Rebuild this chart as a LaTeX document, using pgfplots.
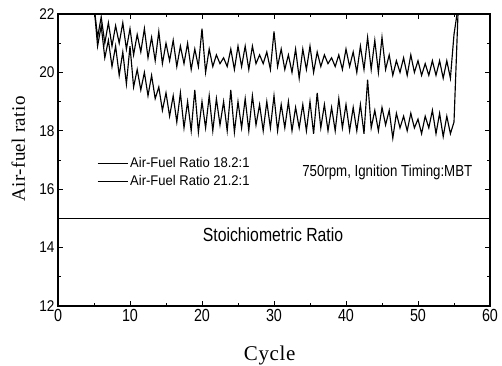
\documentclass[border=0pt]{standalone}
\usepackage{fontspec}
\usepackage{pgfplots}
\pgfplotsset{compat=1.18}
\setmainfont{Liberation Serif}
\newfontfamily\legsans[FakeStretch=0.93]{Liberation Sans}
\newfontfamily\annsans[FakeStretch=0.83]{Liberation Sans}
\newfontfamily\xtsans[FakeStretch=0.82]{Liberation Sans}
\newfontfamily\ytsans[FakeStretch=0.88]{Liberation Sans}
\newfontfamily\ylserif[LetterSpace=2]{Liberation Serif}
\newfontfamily\xlserif[LetterSpace=3]{Liberation Serif}
\begin{document}
\begin{tikzpicture}
\begin{axis}[name=ax,
  width=432pt, height=292pt, scale only axis,
  xmin=0, xmax=60, ymin=12, ymax=22,
  xtick={0,10,...,60}, ytick={12,14,...,22},
  minor x tick num=1, minor y tick num=1,
  tick align=inside, tick pos=both,
  major tick length=5pt, minor tick length=3pt,
  axis line style={line width=1.1pt}, every tick/.style={line width=0.9pt,black},
  /pgf/number format/assume math mode=true,
  xticklabel style={font=\xtsans\fontsize{17.5}{17.5}\selectfont},
  yticklabel style={font=\ytsans\fontsize{15.5}{15.5}\selectfont},
  xlabel={\xlserif\fontsize{21}{21}\selectfont Cycle},
  ylabel={\ylserif\fontsize{19}{19}\selectfont Air-fuel ratio},
  xlabel style={at={(axis description cs:0.49,-0.185)}, anchor=base},
  ylabel style={at={(axis description cs:-0.0764,0.538)}, anchor=base},
  clip=true,
  legend style={at={(axis cs:5.0,17.24)}, anchor=north west, draw=none, fill=none,
    font=\legsans\fontsize{14}{14}\selectfont, row sep=3pt,
    /tikz/every even column/.append style={column sep=0pt}},
  legend cell align=left,
  legend image code/.code={\draw[line width=1pt] (0pt,0pt) -- (30pt,0pt);},
]
\addplot[black, line width=1.15pt] coordinates {
(5.0,22.3)(5.5,20.9)(6.0,21.6)(6.5,20.5)(7.0,21.1)(7.5,20.2)(8.0,20.9)(8.5,19.9)(9.0,20.7)(9.5,19.6)
(10.0,20.9)(10.5,19.5)(11.0,20.1)(11.5,19.4)(12.0,20.0)(12.5,19.2)(13.0,19.9)(13.5,19.1)(14.0,19.5)(14.5,18.7)
(15.0,19.3)(15.5,18.5)(16.0,19.2)(16.5,18.3)(17.0,19.3)(17.5,18.1)(18.0,19.0)(18.5,18.0)(19.0,19.4)(19.5,17.95)
(20.0,19.0)(20.5,18.1)(21.0,19.2)(21.5,18.0)(22.0,19.1)(22.5,18.2)(23.0,19.0)(23.5,18.0)(24.0,19.4)(24.5,17.95)
(25.0,19.0)(25.5,18.1)(26.0,19.1)(26.5,18.0)(27.0,19.2)(27.5,18.2)(28.0,18.9)(28.5,18.0)(29.0,19.0)(29.5,18.1)
(30.0,19.2)(30.5,18.0)(31.0,18.9)(31.5,18.1)(32.0,19.0)(32.5,18.0)(33.0,18.8)(33.5,18.1)(34.0,18.9)(34.5,18.0)
(35.0,19.0)(35.5,17.9)(36.0,19.3)(36.5,18.1)(37.0,18.9)(37.5,18.0)(38.0,18.8)(38.5,18.0)(39.0,19.1)(39.5,18.1)
(40.0,18.9)(40.5,18.0)(41.0,18.8)(41.5,18.0)(42.0,18.9)(42.5,17.9)(43.0,19.75)(43.5,18.1)(44.0,18.7)(44.5,18.0)
(45.0,18.8)(45.5,18.2)(46.0,18.7)(46.5,17.75)(47.0,18.6)(47.5,18.1)(48.0,18.5)(48.5,18.0)(49.0,18.6)(49.5,18.1)
(50.0,18.4)(50.5,17.9)(51.0,18.5)(51.5,18.1)(52.0,18.7)(52.5,17.9)(53.0,18.6)(53.5,17.8)(54.0,18.5)(54.5,17.9)
(55.0,18.3)(55.6,22.3)
};
\addlegendentry{Air-Fuel Ratio 18.2:1}
\addplot[black, line width=1.15pt] coordinates {
(5.0,22.3)(5.5,21.2)(6.0,21.9)(6.5,21.0)(7.0,21.7)(7.5,20.9)(8.0,21.6)(8.5,21.0)(9.0,21.7)(9.5,20.8)
(10.0,21.5)(10.5,20.6)(11.0,21.3)(11.5,20.7)(12.0,21.5)(12.5,20.5)(13.0,21.2)(13.5,20.4)(14.0,21.4)(14.5,20.3)
(15.0,21.0)(15.5,20.4)(16.0,21.1)(16.5,20.2)(17.0,20.9)(17.5,20.3)(18.0,21.0)(18.5,20.1)(19.0,20.8)(19.5,20.2)
(20.0,21.5)(20.5,20.0)(21.0,20.8)(21.5,20.2)(22.0,20.6)(22.5,20.3)(23.0,20.5)(23.5,20.2)(24.0,20.8)(24.5,20.1)
(25.0,20.9)(25.5,20.2)(26.0,20.9)(26.5,20.1)(27.0,20.9)(27.5,20.3)(28.0,20.6)(28.5,20.3)(29.0,20.7)(29.5,20.1)
(30.0,21.4)(30.5,20.2)(31.0,20.8)(31.5,20.1)(32.0,20.6)(32.5,20.0)(33.0,20.8)(33.5,19.8)(34.0,20.8)(34.5,20.1)
(35.0,20.9)(35.5,20.0)(36.0,20.7)(36.5,20.2)(37.0,20.6)(37.5,20.3)(38.0,20.5)(38.5,20.2)(39.0,20.6)(39.5,20.1)
(40.0,20.8)(40.5,20.2)(41.0,20.7)(41.5,20.0)(42.0,20.9)(42.5,20.1)(43.0,21.2)(43.5,20.1)(44.0,21.1)(44.5,20.0)
(45.0,21.2)(45.5,20.1)(46.0,20.6)(46.5,19.9)(47.0,20.4)(47.5,20.0)(48.0,20.5)(48.5,19.9)(49.0,20.6)(49.5,20.0)
(50.0,20.4)(50.5,19.9)(51.0,20.3)(51.5,19.9)(52.0,20.4)(52.5,19.9)(53.0,20.4)(53.5,19.8)(54.0,20.4)(54.5,19.8)
(55.0,21.3)(55.6,22.3)
};
\addlegendentry{Air-Fuel Ratio 21.2:1}
\addplot[black, line width=1.1pt, forget plot] coordinates {(0,15) (60,15)};
\node[anchor=west, font=\annsans\fontsize{19}{19}\selectfont, inner sep=0pt] at (axis cs:20.1,14.45) {Stoichiometric Ratio};
\node[anchor=west, font=\annsans\fontsize{16}{16}\selectfont, inner sep=0pt] at (axis cs:33.9,16.59) {750rpm, Ignition Timing:MBT};
\end{axis}
\pgfresetboundingbox
\path[use as bounding box] ([xshift=-58pt,yshift=-59pt]ax.south west) rectangle ([xshift=12pt,yshift=14pt]ax.north east);
\end{tikzpicture}
\end{document}
